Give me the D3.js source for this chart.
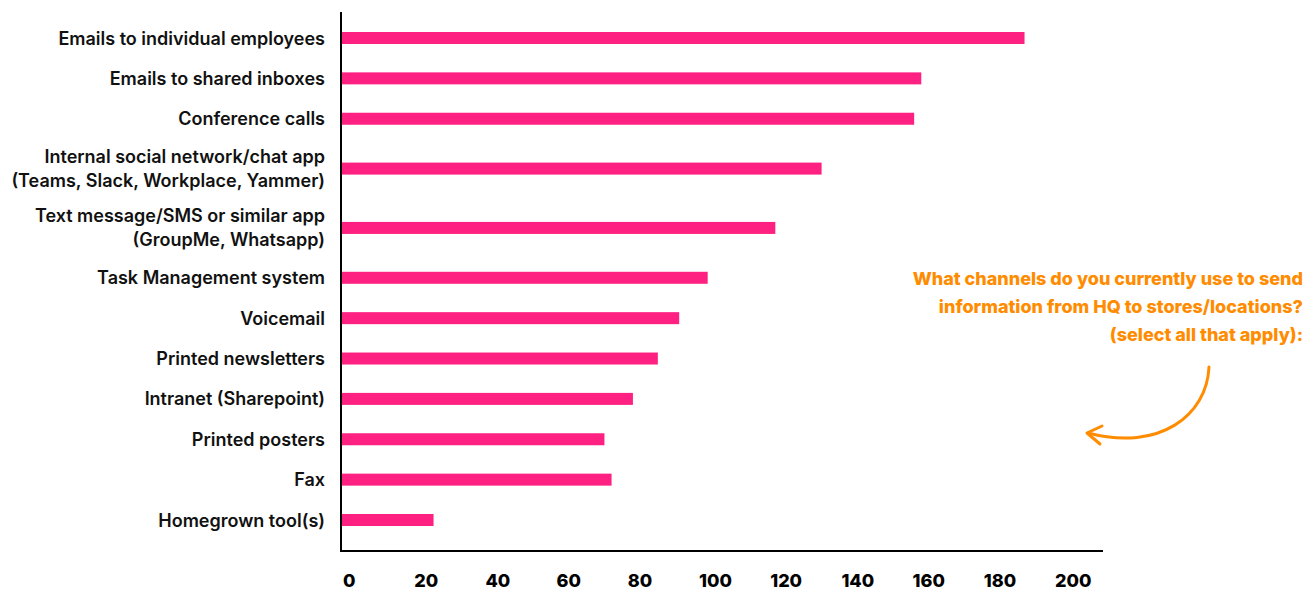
<!DOCTYPE html>
<html>
<head>
<meta charset="utf-8">
<script src="https://cdn.jsdelivr.net/npm/d3@7/dist/d3.min.js"></script>
<style>
  html, body { margin: 0; padding: 0; background: #ffffff; }
  svg { display: block; }
</style>
</head>
<body>
<svg id="chart" width="1313" height="590"></svg>
<script>
// ---- data ----
const categories = [
  "Emails to individual employees",
  "Emails to shared inboxes",
  "Conference calls",
  "Internal social network/chat app\n(Teams, Slack, Workplace, Yammer)",
  "Text message/SMS or similar app\n(GroupMe, Whatsapp)",
  "Task Management system",
  "Voicemail",
  "Printed newsletters",
  "Intranet (Sharepoint)",
  "Printed posters",
  "Fax",
  "Homegrown tool(s)"
];
const values = [192, 163, 161, 135, 122, 103, 95, 89, 82, 74, 76, 26];
const tickValues = [0, 20, 40, 60, 80, 100, 120, 140, 160, 180, 200];
const annotationLines = [
  "What channels do you currently use to send",
  "information from HQ to stores/locations?",
  "(select all that apply):"
];

// ---- layout ----
const W = 1313, H = 590;
const axisX0 = 341, axisYTop = 12, axisYBottom = 551, axisXEnd = 1103;
const pink = "#ff2181", orange = "#ff8c00";
const labelFont = "Inter, 'Noto Sans', sans-serif";

const svg = d3.select("#chart");

const x = d3.scaleLinear().domain([0, 200]).range([axisX0, 1053]);

// vertical slots: two-line labels take more room
const lineCounts = categories.map(c => c.split("\n").length);
const slotSize = lineCounts.map(n => n === 1 ? 1 : 1.47);
const centersU = [];
let acc = 0;
slotSize.forEach(s => { centersU.push(acc + s / 2); acc += s; });
const unitPx = 482 / (centersU[centersU.length - 1] - centersU[0]);
const y = d3.scaleLinear().domain([0, acc]).range([38 - centersU[0] * unitPx, 38 + (acc - centersU[0]) * unitPx]);

const barH = 12;

// bars
svg.append("g").selectAll("rect")
  .data(values)
  .join("rect")
  .attr("x", x(0))
  .attr("y", (d, i) => y(centersU[i]) - barH / 2)
  .attr("width", d => x(d) - x(0))
  .attr("height", barH)
  .attr("fill", pink);

// category labels
const lbl = svg.append("g").selectAll("text")
  .data(categories)
  .join("text")
  .attr("x", 325)
  .attr("y", (d, i) => y(centersU[i]))
  .attr("text-anchor", "end")
  .attr("font-family", labelFont)
  .attr("font-weight", 600)
  .attr("font-size", 18)
  .attr("fill", "#111");
lbl.each(function(d) {
  const lines = d.split("\n");
  const t = d3.select(this);
  const lh = 24;
  lines.forEach((ln, k) => {
    t.append("tspan")
      .attr("x", 325)
      .attr("dy", k === 0 ? (6.5 - (lines.length - 1) * lh / 2) : lh)
      .text(ln);
  });
});

// axes lines
svg.append("line")
  .attr("x1", axisX0).attr("x2", axisX0)
  .attr("y1", axisYTop).attr("y2", axisYBottom + 1)
  .attr("stroke", "#000").attr("stroke-width", 2);
svg.append("line")
  .attr("x1", axisX0 - 1).attr("x2", axisXEnd)
  .attr("y1", axisYBottom).attr("y2", axisYBottom)
  .attr("stroke", "#000").attr("stroke-width", 2);

// x axis tick labels
const xAxis = d3.axisBottom(x).tickValues(tickValues).tickSize(0).tickPadding(0);
const gx = svg.append("g").attr("transform", "translate(0,574)").call(xAxis);
gx.select(".domain").remove();
gx.selectAll("text")
  .attr("text-anchor", "start")
  .attr("dx", 1.5)
  .attr("dy", 0)
  .attr("y", 12.5)
  .attr("font-family", labelFont)
  .attr("font-weight", 800)
  .attr("font-size", 18)
  .attr("fill", "#000");

// annotation
svg.append("g").selectAll("text")
  .data(annotationLines)
  .join("text")
  .attr("x", 1303)
  .attr("y", (d, i) => 285 + i * 28)
  .attr("text-anchor", "end")
  .attr("font-family", labelFont)
  .attr("font-weight", 800)
  .attr("font-size", 18)
  .attr("fill", orange)
  .text(d => d);

// arrow
const arrow = d3.path();
arrow.moveTo(1209, 367);
arrow.bezierCurveTo(1207, 415, 1160, 452, 1088, 433);
svg.append("path").attr("d", arrow.toString())
  .attr("fill", "none").attr("stroke", orange).attr("stroke-width", 3)
  .attr("stroke-linecap", "round");
const head = d3.path();
head.moveTo(1102, 426);
head.lineTo(1087, 433);
head.lineTo(1100, 444);
svg.append("path").attr("d", head.toString())
  .attr("fill", "none").attr("stroke", orange).attr("stroke-width", 3)
  .attr("stroke-linecap", "round").attr("stroke-linejoin", "round");
</script>
</body>
</html>
